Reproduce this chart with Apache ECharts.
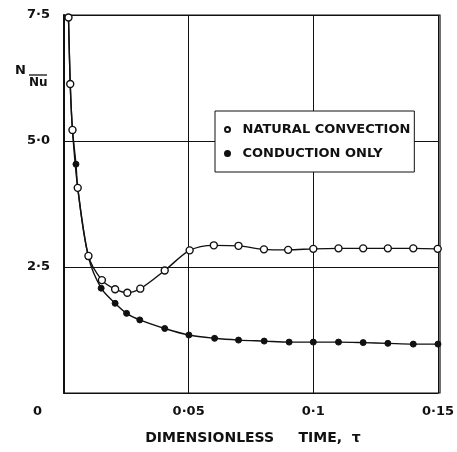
<!DOCTYPE html>
<html lang="en">
<head>
    <meta charset="UTF-8">
    <title>Nusselt number vs dimensionless time</title>
    <script src="https://cdn.jsdelivr.net/npm/echarts@6.0.0/dist/echarts.min.js"></script>
    <style>
        html, body { margin: 0; padding: 0; background: #fff; }
    </style>
</head>
<body>
    <div id="main" style="width: 457px; height: 452px;"></div>
    <script>
        // values
        const natTau = [0.0018, 0.0025, 0.0034, 0.0055, 0.0098, 0.0152, 0.0205, 0.0254, 0.0306, 0.0404,
            0.0504, 0.0601, 0.0700, 0.0802, 0.0899, 0.1000, 0.1101, 0.1200, 0.1299, 0.1401, 0.1499];
        const natNu = [7.45, 6.13, 5.22, 4.07, 2.72, 2.24, 2.06, 1.99, 2.07, 2.43,
            2.83, 2.93, 2.92, 2.85, 2.84, 2.86, 2.87, 2.87, 2.87, 2.87, 2.86];

        const condTau = [0.0018, 0.0025, 0.0034, 0.0048, 0.0055, 0.0098, 0.0149, 0.0205, 0.0251, 0.0304,
            0.0404, 0.0501, 0.0604, 0.0700, 0.0803, 0.0903, 0.1000, 0.1101, 0.1200, 0.1299, 0.1401, 0.1500];
        const condNu = [7.45, 6.13, 5.22, 4.54, 4.07, 2.70, 2.08, 1.78, 1.58, 1.45,
            1.28, 1.15, 1.085, 1.05, 1.03, 1.01, 1.01, 1.01, 1.00, 0.985, 0.97, 0.97];

        const xTicks = { 0.05: '0·05', 0.1: '0·1', 0.15: '0·15' };
        const yTicks = { 2.5: '2·5', 5: '5·0', 7.5: '7·5' };

        const font = 'DejaVu Sans';
        const ink = '#111';

        const myChart = echarts.init(document.getElementById('main'));

        const option = {
            animation: false,
            backgroundColor: '#fff',
            grid: { left: 64, right: 17, top: 15, bottom: 59 },
            xAxis: {
                type: 'value',
                min: 0, max: 0.15, interval: 0.05,
                name: 'DIMENSIONLESS     TIME,  τ',
                nameLocation: 'middle',
                nameGap: 38,
                nameTextStyle: { fontFamily: font, fontSize: 14, fontWeight: 'bold', color: ink, padding: [0, 0, 0, 4] },
                axisLine: { show: true, lineStyle: { color: ink, width: 1.2 } },
                axisTick: { show: false },
                axisLabel: {
                    fontFamily: font, fontSize: 13, fontWeight: 'bold', color: ink, margin: 12,
                    formatter: v => xTicks[+v.toFixed(2)] || ''
                },
                splitLine: { show: true, lineStyle: { color: ink, width: 1 } }
            },
            yAxis: {
                type: 'value',
                min: 0, max: 7.5, interval: 2.5,
                axisLine: { show: true, lineStyle: { color: ink, width: 2 } },
                axisTick: { show: false },
                axisLabel: {
                    fontFamily: font, fontSize: 13, fontWeight: 'bold', color: ink, margin: 14,
                    formatter: v => yTicks[v] || ''
                },
                splitLine: { show: true, lineStyle: { color: ink, width: 1 } }
            },
            legend: {
                left: 215, top: 111,
                orient: 'vertical',
                backgroundColor: '#fff',
                borderColor: ink,
                borderWidth: 1,
                padding: [12, 4, 12, 9],
                itemGap: 11,
                itemWidth: 20, itemHeight: 5,
                icon: 'circle',
                textStyle: { fontFamily: font, fontSize: 13, fontWeight: 'bold', color: ink },
                data: ['NATURAL CONVECTION', 'CONDUCTION ONLY']
            },
            graphic: [
                // plot frame (top and right)
                { type: 'rect', shape: { x: 64, y: 15, width: 376, height: 378 },
                  style: { fill: 'none', stroke: ink, lineWidth: 1.2 }, silent: true, z: 1 },
                // shared origin label
                { type: 'text', left: 33, top: 405,
                  style: { text: '0', font: 'bold 13px "DejaVu Sans"', fill: ink } },
                // y-axis title N with overbarred Nu
                { type: 'text', left: 15, top: 64,
                  style: { text: 'N', font: 'bold 13px "DejaVu Sans"', fill: ink } },
                { type: 'text', left: 29, top: 77,
                  style: { text: 'Nu', font: 'bold 12px "DejaVu Sans"', fill: ink } },
                { type: 'line', shape: { x1: 29, y1: 75, x2: 47, y2: 75 },
                  style: { stroke: ink, lineWidth: 1.3 } }
            ],
            series: [
                {
                    name: 'CONDUCTION ONLY',
                    type: 'line',
                    z: 2,
                    smooth: 0.3,
                    data: condTau.map((t, i) => [t, condNu[i]]),
                    symbol: 'circle',
                    symbolSize: 6,
                    itemStyle: { color: ink, borderColor: ink, borderWidth: 1 },
                    lineStyle: { color: ink, width: 1.4 }
                },
                {
                    name: 'NATURAL CONVECTION',
                    type: 'line',
                    z: 3,
                    smooth: 0.3,
                    data: natTau.map((t, i) => [t, natNu[i]]),
                    symbol: 'circle',
                    symbolSize: 7,
                    itemStyle: { color: '#fff', borderColor: ink, borderWidth: 1.4 },
                    lineStyle: { color: ink, width: 1.4 }
                }
            ]
        };

        myChart.setOption(option);
    </script>
</body>
</html>
